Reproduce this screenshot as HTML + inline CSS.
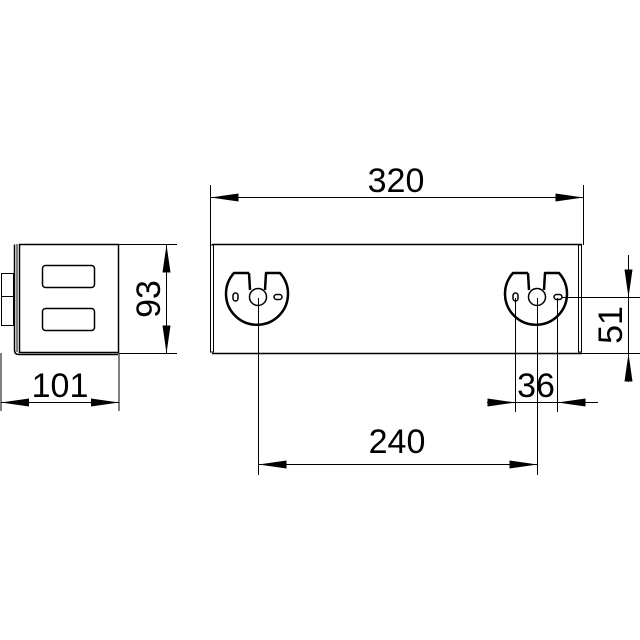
<!DOCTYPE html>
<html><head><style>body{margin:0;background:#fff}svg{display:block}</style></head><body>
<svg width="640" height="640" viewBox="0 0 640 640" xmlns="http://www.w3.org/2000/svg">
<defs>
<marker id="a" viewBox="0 0 28 8" refX="28" refY="4" markerWidth="28" markerHeight="8" markerUnits="userSpaceOnUse" orient="auto"><path d="M0,0 L28,4 L0,8 Z" fill="#000"/></marker>
</defs>
<g fill="none" stroke="#000" stroke-width="1">
<!-- left view -->
<rect x="19.5" y="244.5" width="99" height="108" stroke-width="1.5"/>
<path d="M14.5,244.5 V350 Q14.5,354.5 19,354.5 H118" stroke-width="1.5"/>
<line x1="17" y1="244" x2="17" y2="352"/>
<rect x="1.5" y="273.5" width="12" height="23"/>
<rect x="1.5" y="296.5" width="12" height="29"/>
<rect x="42.5" y="265.5" width="52" height="22" rx="3" stroke-width="1.5"/>
<rect x="42.5" y="308.5" width="52" height="22" rx="3" stroke-width="1.5"/>
<line x1="119" y1="244.5" x2="177" y2="244.5"/>
<line x1="119" y1="353.5" x2="177" y2="353.5"/>
<line x1="166.5" y1="271" x2="166.5" y2="244.5" marker-end="url(#a)"/>
<line x1="166.5" y1="326" x2="166.5" y2="353.5" marker-end="url(#a)"/>
<line x1="166.5" y1="271" x2="166.5" y2="326"/>
<line x1="119" y1="353" x2="119" y2="411"/>
<line x1="1" y1="353" x2="1" y2="411"/>
<line x1="60" y1="402.5" x2="1" y2="402.5" marker-end="url(#a)"/>
<line x1="60" y1="402.5" x2="119" y2="402.5" marker-end="url(#a)"/>
<!-- main view -->
<line x1="212" y1="244.5" x2="582" y2="244.5" stroke-width="1.5"/>
<line x1="212" y1="353.5" x2="582" y2="353.5" stroke-width="1.5"/>
<rect x="210.5" y="245" width="3" height="107"/>
<rect x="578.5" y="245" width="3" height="107"/>
<line x1="210.5" y1="185" x2="210.5" y2="245"/>
<line x1="583.5" y1="185" x2="583.5" y2="245"/>
<line x1="396" y1="197.5" x2="210.5" y2="197.5" marker-end="url(#a)"/>
<line x1="396" y1="197.5" x2="583.5" y2="197.5" marker-end="url(#a)"/>
<!-- brackets -->
<g stroke-width="2.5" stroke-linejoin="round">
<path d="M249,273 H234 A31,31 0 1 0 280,273 H266 L265,290 M249,273 L250,290"/>
<path d="M528,273 H513 A31,31 0 1 0 559,273 H545 L544,290 M528,273 L529,290"/>
</g>
<circle cx="258" cy="297" r="8.5" stroke-width="1.5"/>
<circle cx="537" cy="297" r="8.5" stroke-width="1.5"/>
<rect x="233" y="293" width="5" height="8" rx="2.5" stroke-width="1.5"/>
<rect x="274" y="294.5" width="8" height="5" rx="2.5" stroke-width="1.5"/>
<rect x="513" y="293" width="5" height="8" rx="2.5" stroke-width="1.5"/>
<rect x="554" y="294.5" width="8" height="5" rx="2.5" stroke-width="1.5"/>
<line x1="258.5" y1="298" x2="258.5" y2="475"/>
<line x1="537.5" y1="298" x2="537.5" y2="475"/>
<line x1="515.5" y1="298" x2="515.5" y2="412"/>
<line x1="557.5" y1="298" x2="557.5" y2="412"/>
<line x1="397" y1="464.5" x2="258.5" y2="464.5" marker-end="url(#a)"/>
<line x1="397" y1="464.5" x2="537.5" y2="464.5" marker-end="url(#a)"/>
<line x1="487" y1="402.5" x2="515.5" y2="402.5" marker-end="url(#a)"/>
<line x1="598" y1="402.5" x2="557.5" y2="402.5" marker-end="url(#a)"/>
<line x1="515.5" y1="402.5" x2="557.5" y2="402.5"/>
<line x1="562" y1="297.5" x2="640" y2="297.5"/>
<line x1="582" y1="353.5" x2="640" y2="353.5"/>
<line x1="628.5" y1="255" x2="628.5" y2="297.5" marker-end="url(#a)"/>
<line x1="628.5" y1="382" x2="628.5" y2="353.5" marker-end="url(#a)"/>
<line x1="628.5" y1="297.5" x2="628.5" y2="353.5"/>
</g>
<g font-family="Liberation Sans, sans-serif" font-size="34" fill="#000" text-anchor="middle">
<text x="396" y="192">320</text>
<text x="397" y="453">240</text>
<text x="536" y="397">36</text>
<text x="60" y="397">101</text>
<text transform="translate(160,299) rotate(-90)">93</text>
<text transform="translate(622,325) rotate(-90)">51</text>
</g>
</svg>
</body></html>
